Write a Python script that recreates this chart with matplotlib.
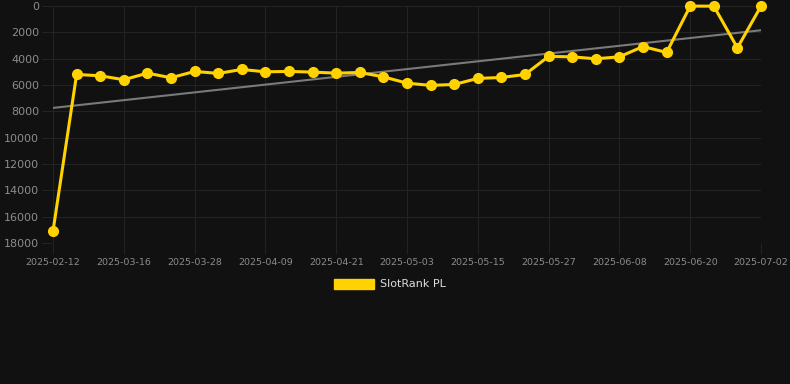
import matplotlib
matplotlib.use("Agg")
import matplotlib.pyplot as plt
from matplotlib.patches import Patch
import numpy as np

# category labels (one per data point)
dates = ["2025-02-12", "2025-03-08", "2025-03-12", "2025-03-16", "2025-03-20",
         "2025-03-24", "2025-03-28", "2025-04-01", "2025-04-05", "2025-04-09",
         "2025-04-13", "2025-04-17", "2025-04-21", "2025-04-25", "2025-04-29",
         "2025-05-03", "2025-05-07", "2025-05-11", "2025-05-15", "2025-05-19",
         "2025-05-23", "2025-05-27", "2025-05-31", "2025-06-04", "2025-06-08",
         "2025-06-12", "2025-06-16", "2025-06-20", "2025-06-24", "2025-06-28",
         "2025-07-02"]

ranks = [17100, 5200, 5300, 5600, 5100, 5450, 4970, 5120, 4820, 5000,
         4970, 5020, 5100, 5050, 5380, 5860, 6030, 5960, 5500, 5430,
         5200, 3830, 3860, 4010, 3860, 3080, 3530, 10, 10, 3180, 10]

series_name = "SlotRank PL"
y_ticks = [0, 2000, 4000, 6000, 8000, 10000, 12000, 14000, 16000, 18000]

BG = "#111111"
GOLD = "#FFD200"
GRID = "#232323"
TXT = "#8c8c8c"

fig = plt.figure(figsize=(7.9, 3.84), dpi=100, facecolor=BG)
ax = fig.add_axes([53 / 790, 1 - 243 / 384, (761 - 53) / 790, (243 - 6) / 384])
ax.set_facecolor(BG)

x = np.arange(len(dates))

# linear trend
coef = np.polyfit(x, ranks, 1)
ax.plot(x, np.polyval(coef, x), color="#7a7a7a", linewidth=1.5, zorder=2)

ax.plot(x, ranks, color=GOLD, linewidth=2.2, marker="o", markersize=7,
        markerfacecolor=GOLD, markeredgecolor=GOLD, zorder=3, clip_on=False)

ax.set_xlim(0, len(dates) - 1)
ax.set_ylim(18000, 0)
ax.set_yticks(y_ticks)
ax.set_yticklabels([str(v) for v in y_ticks])
ax.set_xticks(x[::3])
ax.set_xticklabels(dates[::3])

ax.tick_params(axis="y", labelcolor=TXT, color=GRID, labelsize=8, length=8, pad=2)
ax.tick_params(axis="x", labelcolor=TXT, color=GRID, labelsize=6.8, length=8, pad=3)
ax.grid(True, color=GRID, linewidth=0.8)
for s in ax.spines.values():
    s.set_visible(False)

handle = Patch(facecolor=GOLD, edgecolor=GOLD)
leg = fig.legend([handle], [series_name], loc="center",
                 bbox_to_anchor=(390 / 790, 1 - 284 / 384), frameon=False,
                 fontsize=8, handlelength=3.6, handleheight=1.0,
                 handletextpad=0.6, labelcolor="#dddddd")

fig.savefig("out.png", dpi=100, facecolor=BG)
